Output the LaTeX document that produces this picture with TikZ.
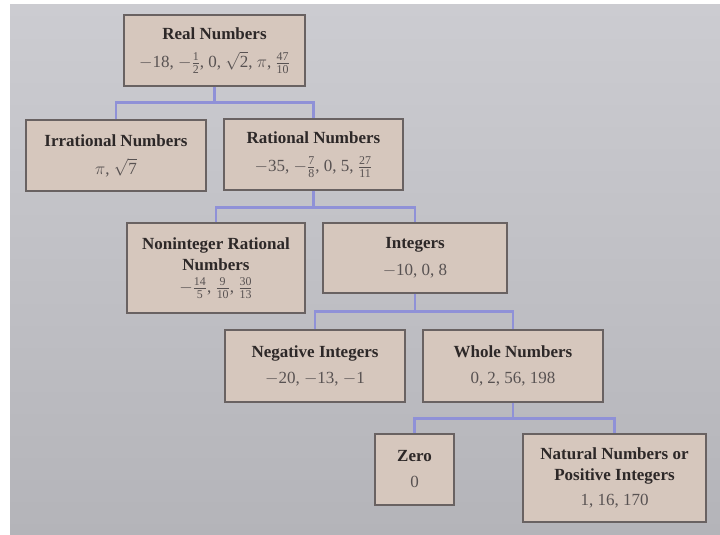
\documentclass[tikz,border=0pt]{standalone}
\usepackage{amsmath}
\usepackage{fontspec}
\setmainfont{Liberation Serif}
\usepackage{tikz}
\definecolor{paper}{RGB}{204,204,209}
\definecolor{paperlow}{RGB}{180,180,185}
\definecolor{boxfill}{RGB}{214,199,189}
\definecolor{boxedge}{RGB}{105,98,98}
\definecolor{ink}{RGB}{45,40,40}
\definecolor{numink}{RGB}{88,82,82}
\definecolor{busblue}{RGB}{143,145,215}
\newcommand{\fr}[2]{$\frac{\text{#1}}{\text{#2}}$}
\newcommand{\heading}[1]{{\bfseries\color{ink}#1}}
\tikzset{
  setbox/.style={draw=boxedge,fill=boxfill,line width=1.3pt,align=center,
    inner sep=2pt,text=numink,font=\fontsize{17}{21}\selectfont},
  branch/.style={busblue,line width=2.6pt}
}

\begin{document}
\begin{tikzpicture}[x=1pt,y=-1pt]
  \fill[white] (0,0) rectangle (720,535);
  \shade[top color=paper,bottom color=paperlow] (10,5) rectangle (720,535);
  % boxes, one per set of numbers
  \node[setbox,minimum width=181,minimum height=71] (real) at (214.5,50.5)
    {\heading{Real Numbers}\\[7pt] $-$18, $-$\fr{1}{2}, 0, $\sqrt{\text{2}}$, $\pi$, \fr{47}{10}};
  \node[setbox,minimum width=180,minimum height=71] (irr) at (116,155.5)
    {\heading{Irrational Numbers}\\[7pt] $\pi$, $\sqrt{\text{7}}$};
  \node[setbox,minimum width=179,minimum height=71] (rat) at (313.5,154.5)
    {\heading{Rational Numbers}\\[7pt] $-$35, $-$\fr{7}{8}, 0, 5, \fr{27}{11}};
  \node[setbox,minimum width=178,minimum height=90] (nonint) at (216,268)
    {\heading{Noninteger Rational}\\ \heading{Numbers}\\[1pt] $-$\fr{14}{5}, \fr{9}{10}, \fr{30}{13}};
  \node[setbox,minimum width=184,minimum height=70] (integ) at (415,258)
    {\heading{Integers}\\[6pt] $-$10, 0, 8};
  \node[setbox,minimum width=180,minimum height=72] (neg) at (315,366)
    {\heading{Negative Integers}\\[5pt] $-$20, $-$13, $-$1};
  \node[setbox,minimum width=180,minimum height=72] (whole) at (513,366)
    {\heading{Whole Numbers}\\[5pt] 0, 2, 56, 198};
  \node[setbox,minimum width=79,minimum height=71] (zero) at (414.5,469.5)
    {\heading{Zero}\\[5pt] 0};
  \node[setbox,minimum width=183,minimum height=88] (natural) at (614.5,478)
    {\heading{Natural Numbers or}\\ \heading{Positive Integers}\\[4pt] 1, 16, 170};
  % tree connectors
  \draw[branch] (real.south) -- ++(0,16) coordinate (b1);
  \draw[branch] (irr.north) |- (b1) -| (rat.north);
  \draw[branch] (rat.south) -- ++(0,17) coordinate (b2);
  \draw[branch] (nonint.north) |- (b2) -| (integ.north);
  \draw[branch] (integ.south) -- ++(0,18) coordinate (b3);
  \draw[branch] (neg.north) |- (b3) -| (whole.north);
  \draw[branch] (whole.south) -- ++(0,16) coordinate (b4);
  \draw[branch] (zero.north) |- (b4) -| (natural.north);
\end{tikzpicture}
\end{document}
